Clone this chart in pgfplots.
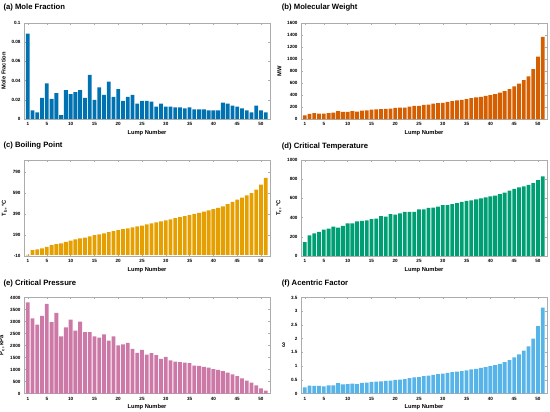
\documentclass[border=0pt]{standalone}
\usepackage{fontspec}
\setmainfont{Liberation Sans}
\usepackage{pgfplots}
\usepackage{pgfplotstable}
\pgfplotsset{compat=1.18}
\definecolor{oiblue}{HTML}{0072B2}
\definecolor{oiverm}{HTML}{D55E00}
\definecolor{oiorange}{HTML}{E69F00}
\definecolor{oigreen}{HTML}{009E73}
\definecolor{oipurple}{HTML}{CC79A7}
\definecolor{oisky}{HTML}{56B4E9}
\pgfplotstableread{
lump mf mw tb tc pc w
1 0.089 60 -5 145 3800 0.22
2 0.009 85 45 215 3130 0.29
3 0.007 100 52 235 2870 0.28
4 0.022 90 62 250 3230 0.28
5 0.037 90 78 275 3730 0.26
6 0.021 100 93 285 2970 0.30
7 0.027 105 104 305 3360 0.30
8 0.004 130 110 295 2380 0.38
9 0.030 120 124 315 2760 0.33
10 0.026 120 136 340 3080 0.34
11 0.028 130 148 340 2620 0.36
12 0.030 125 158 360 2990 0.34
13 0.022 140 166 365 2560 0.39
14 0.046 145 178 370 2560 0.40
15 0.020 155 188 385 2380 0.42
16 0.033 160 197 390 2330 0.43
17 0.025 165 206 415 2460 0.44
18 0.039 170 218 410 2200 0.46
19 0.023 175 226 435 2380 0.47
20 0.031 185 236 430 2010 0.50
21 0.019 190 245 445 2050 0.51
22 0.023 190 254 460 2110 0.52
23 0.025 205 262 460 1860 0.56
24 0.016 220 272 460 1690 0.59
25 0.019 220 280 485 1820 0.60
26 0.019 235 292 485 1620 0.63
27 0.018 240 300 500 1680 0.65
28 0.013 255 310 505 1600 0.68
29 0.016 265 320 515 1440 0.71
30 0.013 270 330 530 1530 0.72
31 0.013 285 340 530 1380 0.75
32 0.012 300 350 540 1330 0.78
33 0.012 310 360 550 1310 0.80
34 0.011 320 370 565 1290 0.82
35 0.012 330 380 575 1270 0.84
36 0.010 350 392 580 1160 0.88
37 0.010 360 402 590 1150 0.90
38 0.010 370 414 600 1110 0.93
39 0.009 385 424 610 1080 0.96
40 0.009 400 436 620 1020 1.00
41 0.009 415 448 630 980 1.03
42 0.017 440 464 645 930 1.08
43 0.016 465 484 660 870 1.14
44 0.014 500 505 680 800 1.22
45 0.013 545 527 700 720 1.32
46 0.011 590 547 715 630 1.43
47 0.009 650 567 725 540 1.56
48 0.007 710 590 740 450 1.72
49 0.014 830 622 760 340 2.00
50 0.009 1040 670 790 210 2.46
51 0.007 1370 735 830 120 3.13
}\data
\pgfplotsset{
  panel/.style={
    scale only axis, width=246pt, height=96pt, anchor=north west,
    xmin=0.2, xmax=51.9, xtick={1,5,10,15,20,25,30,35,40,45,50},
    ybar, bar width=0.8,
    axis line style={gray!65, line width=0.4pt},
    tick style={gray!65, line width=0.4pt},
    tick align=inside, major tick length=1.8pt,
    ticklabel style={font=\fontsize{4.6}{5}\selectfont\bfseries},
    /pgf/number format/assume math mode=true,
    label style={font=\fontsize{5.75}{6.5}\selectfont\bfseries},
    xlabel={Lump Number},
    xlabel style={yshift=2.5pt},
    ylabel style={yshift=-1pt},
    scaled y ticks=false,
    yticklabel style={/pgf/number format/fixed, /pgf/number format/1000 sep={}},
  },
  bars/.style={draw=none, fill=#1},
}
\newcommand{\ptitle}{\fontsize{7.7}{9}\selectfont\bfseries}
\begin{document}
\begin{tikzpicture}
\useasboundingbox (0,0) rectangle (550pt,-412pt);
% (a)
\begin{axis}[panel, at={(24pt,-23pt)}, ymin=0, ymax=0.1, ytick={0,0.02,0.04,0.06,0.08,0.1}, ylabel={Mole Fraction}]
\addplot[bars=oiblue] table[x=lump,y=mf]{\data};
\end{axis}
\node[anchor=west, inner sep=0] at (3.3pt,-7.3pt) {\ptitle (a) Mole Fraction};
% (b)
\begin{axis}[panel, at={(301pt,-23pt)}, ymin=0, ymax=1600, ytick={0,200,...,1600}, ylabel={MW}]
\addplot[bars=oiverm] table[x=lump,y=mw]{\data};
\end{axis}
\node[anchor=west, inner sep=0] at (281.7pt,-7.3pt) {\ptitle (b) Molecular Weight};
% (c)
\begin{axis}[panel, at={(24pt,-160pt)}, ymin=-10, ymax=905, ytick={-10,190,390,590,790}, ylabel={T\textsubscript{b}, °C}]
\addplot[bars=oiorange] table[x=lump,y=tb]{\data};
\end{axis}
\node[anchor=west, inner sep=0] at (3.3pt,-146pt) {\ptitle (c) Boiling Point};
% (d)
\begin{axis}[panel, at={(301pt,-160pt)}, ymin=0, ymax=1000, ytick={0,200,...,1000}, ylabel={T\textsubscript{c}, °C}]
\addplot[bars=oigreen] table[x=lump,y=tc]{\data};
\end{axis}
\node[anchor=west, inner sep=0] at (281.7pt,-146.5pt) {\ptitle (d) Critical Temperature};
% (e)
\begin{axis}[panel, at={(24pt,-297.5pt)}, ymin=0, ymax=4000, ytick={0,500,...,4000}, ylabel={P\textsubscript{c}, kPa}]
\addplot[bars=oipurple] table[x=lump,y=pc]{\data};
\end{axis}
\node[anchor=west, inner sep=0] at (3.3pt,-283.7pt) {\ptitle (e) Critical Pressure};
% (f)
\begin{axis}[panel, at={(301pt,-297.5pt)}, ymin=0, ymax=3.5, ytick={0,0.5,...,3.5}, ylabel={ω}]
\addplot[bars=oisky] table[x=lump,y=w]{\data};
\end{axis}
\node[anchor=west, inner sep=0] at (281.7pt,-283.7pt) {\ptitle (f) Acentric Factor};
\end{tikzpicture}
\end{document}
